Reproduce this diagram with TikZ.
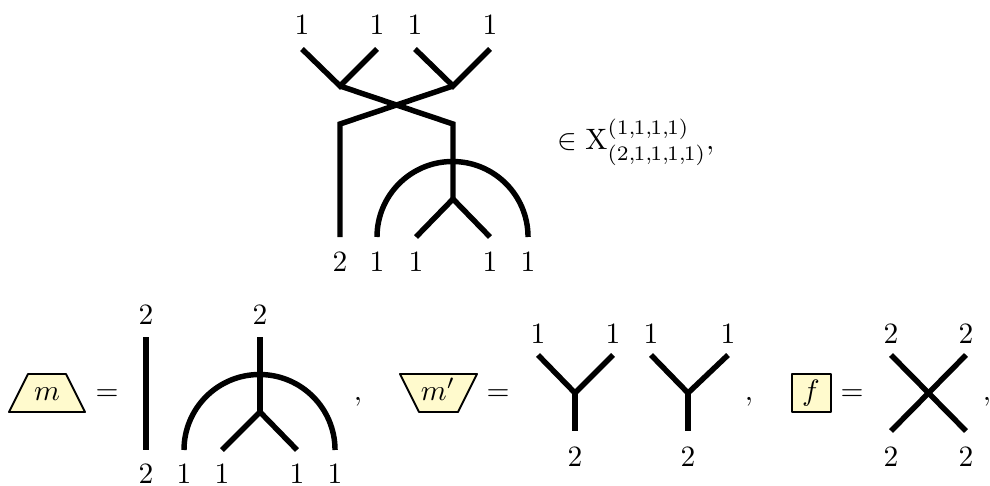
\documentclass[tikz,border=0pt]{standalone}
\usepackage{amsmath}
\definecolor{boxyellow}{HTML}{FFFACD}
\newcommand{\tc}{,\mkern-1.5mu}
\tikzset{
  wire/.style={line width=1.85pt},
  lab/.style={anchor=base,inner sep=0pt,outer sep=0pt},
  boxline/.style={draw=black,fill=boxyellow,line width=0.65pt,line join=round},
}
\begin{document}
\begin{tikzpicture}[x=0.339pt,y=-0.339pt]
\useasboundingbox (0,0) rectangle (990,486);
% top diagram
\foreach \n/\x/\y in {a1/302/49,a2/377/49,a3/415/49,a4/490/49,b1/340/86,b2/453/86,c1/340/124,c2/453/124,d1/340/237,e/453/199,g1/416/237,g2/490/237,h1/377/237}
  \coordinate (\n) at (\x,\y);
\draw[wire] (a1)--(b1)--(a2);
\draw[wire] (a3)--(b2)--(a4);
\draw[wire] (b1)--(c2)--(e);
\draw[wire] (b2)--(c1)--(d1);
\draw[wire] (g1)--(e)--(g2);
\draw[wire] (h1) arc[start angle=180,end angle=0,radius=25.6pt];
\foreach \n/\x/\t in {l1/302/1,l2/377/1,l3/415/1,l4/490/1} \node[lab] (\n) at (\x,35) {$\t$};
\foreach \n/\x/\t in {l5/340/2,l6/377/1,l7/416/1,l8/490/1,l9/528/1} \node[lab] (\n) at (\x,271) {$\t$};
\node[anchor=base west,inner sep=0pt] (memb) at (557,150) {$\in \mathrm{X}^{(1\tc1\tc1\tc1)}_{(2\tc1\tc1\tc1\tc1)},$};
% m
\draw[boxline] (9,412)--(28,374)--(66,374)--(85,412)--cycle;
\node[lab] (mt) at (47,400) {$m$};
\node[lab] (eq1) at (107,400) {$=$};
\coordinate (p1) at (146,337); \coordinate (p2) at (146,450);
\draw[wire] (p1)--(p2);
\coordinate (q1) at (260,337); \coordinate (q2) at (260,412);
\coordinate (q3) at (222,450); \coordinate (q4) at (297,450); \coordinate (q5) at (184,450);
\draw[wire] (q1)--(q2);
\draw[wire] (q3)--(q2)--(q4);
\draw[wire] (q5) arc[start angle=180,end angle=0,radius=25.6pt];
\node[lab] (t1) at (146,324) {$2$};
\node[lab] (t2) at (260,324) {$2$};
\foreach \n/\x/\t in {u1/146/2,u2/184/1,u3/222/1,u4/297/1,u5/335/1} \node[lab] (\n) at (\x,483) {$\t$};
\node[lab] (c1t) at (358,400) {$,$};
% m'
\draw[boxline] (400,374)--(477,374)--(458,412)--(419,412)--cycle;
\node[lab] (mpt) at (438,400) {$m'$};
\node[lab] (eq2) at (498,400) {$=$};
\coordinate (y1) at (538,355); \coordinate (y2) at (613,355); \coordinate (y3) at (575,393); \coordinate (y4) at (575,431);
\draw[wire] (y1)--(y3)--(y2);
\draw[wire] (y3)--(y4);
\coordinate (z1) at (651,355); \coordinate (z2) at (728,355); \coordinate (z3) at (688,393); \coordinate (z4) at (688,431);
\draw[wire] (z1)--(z3)--(z2);
\draw[wire] (z3)--(z4);
\foreach \n/\x in {v1/538,v2/613,v3/651,v4/728} \node[lab] (\n) at (\x,343) {$1$};
\node[lab] (v5) at (575,466) {$2$};
\node[lab] (v6) at (688,466) {$2$};
\node[lab] (c2t) at (749,400) {$,$};
% f
\draw[boxline] (792,374) rectangle (831,412);
\node[lab] (ft) at (811,400) {$f$};
\node[lab] (eq3) at (852,400) {$=$};
\coordinate (x1) at (891,355); \coordinate (x2) at (966,355); \coordinate (x3) at (891,431); \coordinate (x4) at (966,431);
\draw[wire] (x1)--(x4);
\draw[wire] (x2)--(x3);
\foreach \n/\x in {w1/891,w2/966} \node[lab] (\n) at (\x,343) {$2$};
\foreach \n/\x in {w3/891,w4/966} \node[lab] (\n) at (\x,466) {$2$};
\node[lab] (c3t) at (987,400) {$,$};
\end{tikzpicture}
\end{document}
